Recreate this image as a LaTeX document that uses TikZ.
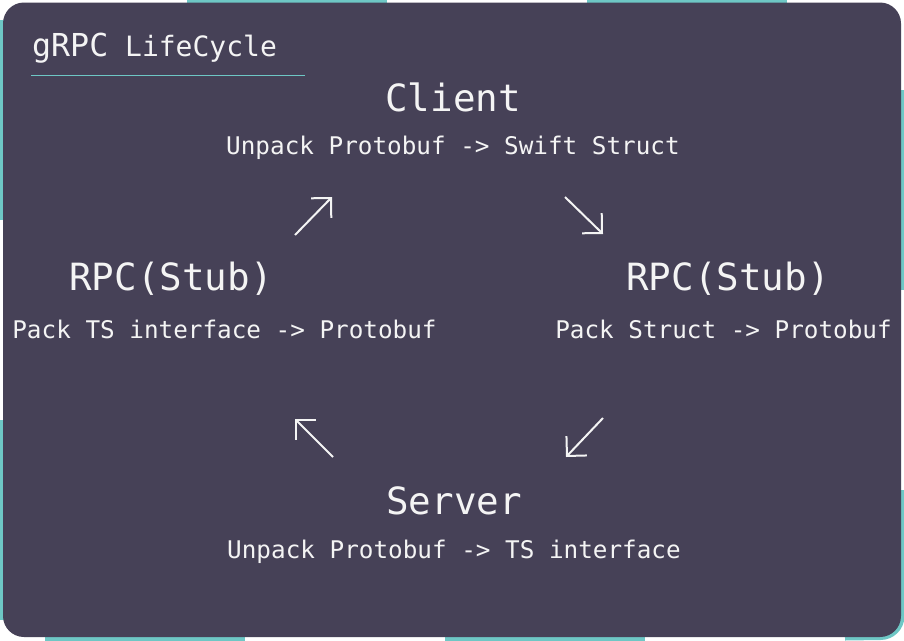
\documentclass[tikz,border=0pt]{standalone}
\usepackage{fontspec}
\setmonofont{DejaVu Sans Mono}
\usetikzlibrary{arrows.meta}
\definecolor{bgdark}{RGB}{70,65,87}
\definecolor{teal2}{RGB}{110,199,197}
\definecolor{txt}{RGB}{244,244,244}
\tikzset{
  big/.style={text=txt, font=\ttfamily\fontsize{37.5}{40}\selectfont, inner sep=0pt, anchor=center},
  small/.style={text=txt, font=\ttfamily\fontsize{24.3}{26}\selectfont, inner sep=0pt, anchor=center},
  edge/.style={draw=teal2, line width=4pt},
  flow/.style={draw=txt, line width=2pt, -{Straight Barb[length=14pt,width=28pt,line width=2pt]}}
}
\begin{document}
\begin{tikzpicture}[x=1pt,y=1pt]
\useasboundingbox (0,0) rectangle (904,-640);
\fill[white] (0,0) rectangle (904,-640);
% teal border segments
\draw[edge] (187,-1.5) -- (387,-1.5);
\draw[edge] (587,-1.5) -- (787,-1.5);
\draw[edge] (1.5,-20) -- (1.5,-220);
\draw[edge] (1.5,-420) -- (1.5,-620);
\draw[edge] (45,-638.5) -- (245,-638.5);
\draw[edge] (445,-638.5) -- (645,-638.5);
\draw[edge] (902.5,-90) -- (902.5,-290);
\draw[edge] (902.5,-490) -- (902.5,-616) arc[start angle=0,end angle=-90,radius=22] -- (845,-638.5);
% background panel
\fill[bgdark, rounded corners=21pt] (3,-2.5) rectangle (901,-637);
% title
\node[text=txt, inner sep=0pt, anchor=base west] (title) at (32,-56)
  {\ttfamily\fontsize{31.6}{34}\selectfont gRPC\fontsize{28}{30}\selectfont{} LifeCycle};
\draw[teal2, line width=1pt] (31,-75) -- (305,-75);
% nodes
\node[big] (client) at (453,-97) {Client};
\node[small] (clientd) at (453,-148) {Unpack Protobuf -> Swift Struct};
\node[big] (stubl) at (171,-279) {RPC(Stub)};
\node[small] (stubld) at (224.5,-329) {Pack TS interface -> Protobuf};
\node[big] (stubr) at (728,-279) {RPC(Stub)};
\node[small] (stubrd) at (723.5,-329) {Pack Struct -> Protobuf};
\node[big] (server) at (454,-501) {Server};
\node[small] (serverd) at (454,-552) {Unpack Protobuf -> TS interface};
% arrows
\coordinate (a1s) at (295,-235); \coordinate (a1e) at (332,-197);
\coordinate (a2s) at (565,-197); \coordinate (a2e) at (603,-234);
\coordinate (a3s) at (603,-418); \coordinate (a3e) at (566,-457);
\coordinate (a4s) at (333,-457); \coordinate (a4e) at (295,-419);
\draw[flow] (a1s) -- (a1e);
\draw[flow] (a2s) -- (a2e);
\draw[flow] (a3s) -- (a3e);
\draw[flow] (a4s) -- (a4e);
\end{tikzpicture}
\end{document}
